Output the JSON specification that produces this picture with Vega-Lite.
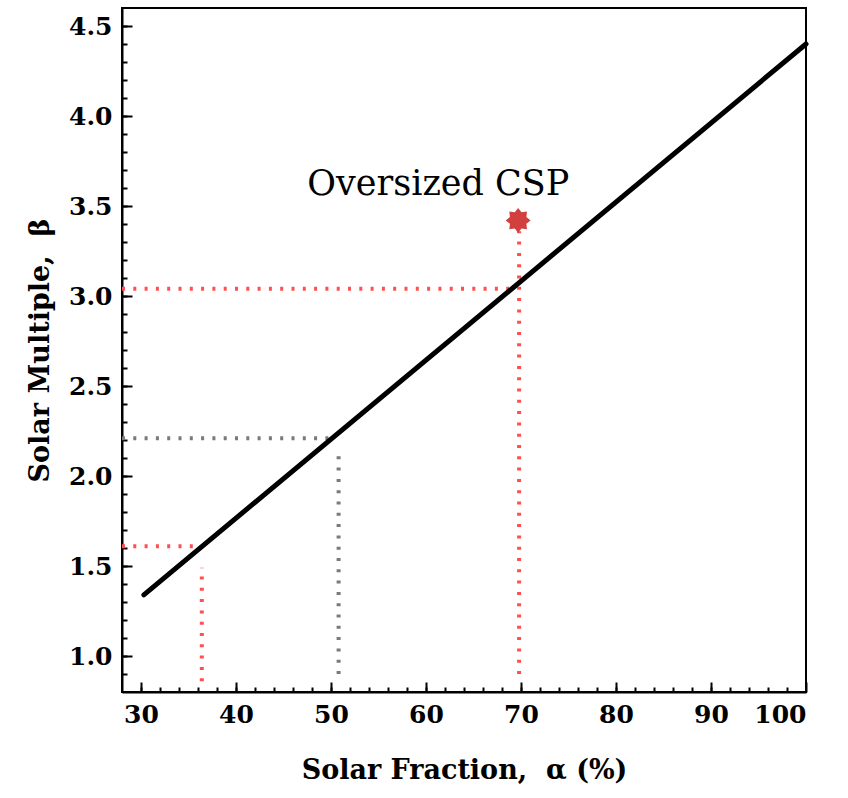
{
  "$schema": "https://vega.github.io/schema/vega-lite/v6.json",
  "autosize": "none",
  "width": 684,
  "height": 684,
  "padding": {"left": 122, "top": 8, "right": 42, "bottom": 106},
  "background": "white",
  "config": {
    "view": {"stroke": "black", "strokeWidth": 2},
    "axis": {
      "labelFont": "DejaVu Serif", "labelFontWeight": "bold", "labelFontSize": 25, "labelColor": "black",
      "titleFont": "DejaVu Serif", "titleFontWeight": "bold", "titleFontSize": 27, "titleColor": "black",
      "domainColor": "black", "domainWidth": 2, "tickColor": "black", "tickWidth": 2, "grid": false
    }
  },
  "datasets": {
    "line": [{"x": 30.3, "y": 1.34}, {"x": 100, "y": 4.40}],
    "segs": [
      {"x": 28, "y": 1.61, "x2": 36.2, "y2": 1.61, "c": "red"},
      {"x": 36.4, "y": 0.86, "x2": 36.4, "y2": 1.49, "c": "red"},
      {"x": 28, "y": 2.21, "x2": 50.4, "y2": 2.21, "c": "gray"},
      {"x": 50.8, "y": 0.9, "x2": 50.8, "y2": 2.13, "c": "gray"},
      {"x": 28, "y": 3.04, "x2": 69.4, "y2": 3.04, "c": "red"},
      {"x": 69.8, "y": 0.9, "x2": 69.8, "y2": 3.36, "c": "red"}
    ],
    "star": [{"x": 69.7, "y": 3.42}],
    "label": [{"x": 61.3, "y": 3.62, "t": "Oversized CSP"}]
  },
  "layer": [
    {
      "data": {"name": "segs"},
      "mark": {"type": "rule", "strokeWidth": 4, "strokeDash": [3, 8.3]},
      "encoding": {
        "x": {"field": "x", "type": "quantitative", "scale": {"domain": [28, 100], "nice": false, "zero": false},
              "axis": {"orient": "bottom", "values": [30, 40, 50, 60, 70, 80, 90, 100], "tickSize": -10, "labelPadding": 20, "title": "Solar Fraction,\u00a0 α (%)", "titlePadding": 30}},
        "y": {"field": "y", "type": "quantitative", "scale": {"domain": [0.8, 4.6], "nice": false, "zero": false},
              "axis": {"orient": "left", "values": [1.0, 1.5, 2.0, 2.5, 3.0, 3.5, 4.0, 4.5], "format": ".1f", "tickSize": -10, "labelPadding": 20, "title": "Solar Multiple,\u00a0 β", "titlePadding": 14}},
        "x2": {"field": "x2"},
        "y2": {"field": "y2"},
        "color": {"field": "c", "type": "nominal", "scale": {"domain": ["red", "gray"], "range": ["#ff4f4f", "#7a7a7a"]}, "legend": null}
      }
    },
    {
      "data": {"name": "line"},
      "mark": {"type": "line", "color": "black", "strokeWidth": 5, "strokeCap": "round"},
      "encoding": {
        "x": {"field": "x", "type": "quantitative",
              "axis": {"orient": "bottom", "values": [30, 32, 34, 36, 38, 40, 42, 44, 46, 48, 50, 52, 54, 56, 58, 60, 62, 64, 66, 68, 70, 72, 74, 76, 78, 80, 82, 84, 86, 88, 90, 92, 94, 96, 98], "tickSize": -5, "labels": false, "title": null, "domain": false}},
        "y": {"field": "y", "type": "quantitative",
              "axis": {"orient": "left", "values": [0.9, 1.0, 1.1, 1.2, 1.3, 1.4, 1.5, 1.6, 1.7, 1.8, 1.9, 2.0, 2.1, 2.2, 2.3, 2.4, 2.5, 2.6, 2.7, 2.8, 2.9, 3.0, 3.1, 3.2, 3.3, 3.4, 3.5, 3.6, 3.7, 3.8, 3.9, 4.0, 4.1, 4.2, 4.3, 4.4, 4.5], "tickSize": -5, "labels": false, "title": null, "domain": false}}
      }
    },
    {
      "data": {"name": "star"},
      "mark": {"type": "point", "filled": true, "color": "#cc2a2a", "opacity": 0.9, "size": 620,
               "shape": "M1,0 L0.66,0.27 L0.71,0.71 L0.27,0.66 L0,1 L-0.27,0.66 L-0.71,0.71 L-0.66,0.27 L-1,0 L-0.66,-0.27 L-0.71,-0.71 L-0.27,-0.66 L0,-1 L0.27,-0.66 L0.71,-0.71 L0.66,-0.27 Z"},
      "encoding": {
        "x": {"field": "x", "type": "quantitative", "axis": null},
        "y": {"field": "y", "type": "quantitative", "axis": null}
      }
    },
    {
      "data": {"name": "label"},
      "mark": {"type": "text", "font": "DejaVu Serif", "fontSize": 35, "color": "black", "align": "center", "baseline": "middle"},
      "encoding": {
        "x": {"field": "x", "type": "quantitative", "axis": null},
        "y": {"field": "y", "type": "quantitative", "axis": null},
        "text": {"field": "t"}
      }
    }
  ],
  "resolve": {"axis": {"x": "independent", "y": "independent"}}
}
